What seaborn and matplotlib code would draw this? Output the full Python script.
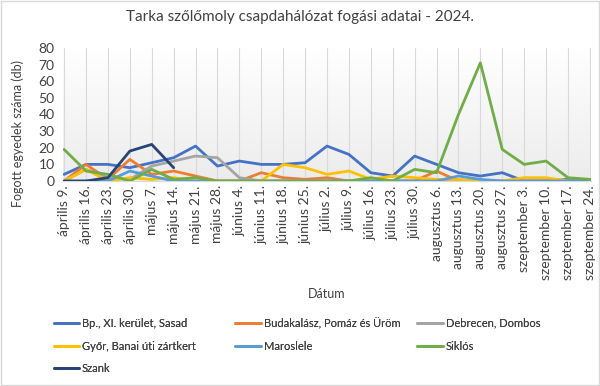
import numpy as np
import pandas as pd
import seaborn as sns
import matplotlib.pyplot as plt
from matplotlib.patches import Rectangle
from matplotlib.colors import LinearSegmentedColormap

# dates (weekly)
datumok = ['április 9.', 'április 16.', 'április 23.', 'április 30.', 'május 7.',
           'május 14.', 'május 21.', 'május 28.', 'június 4.', 'június 11.',
           'június 18.', 'június 25.', 'július 2.', 'július 9.', 'július 16.',
           'július 23.', 'július 30.', 'augusztus 6.', 'augusztus 13.',
           'augusztus 20.', 'augusztus 27.', 'szeptember 3.', 'szeptember 10.',
           'szeptember 17.', 'szeptember 24.']

helyek = ['Bp., XI. kerület, Sasad', 'Budakalász, Pomáz és Üröm', 'Debrecen, Dombos',
          'Győr, Banai úti zártkert', 'Maroslele', 'Siklós', 'Szank']

sasad = [4, 10, 10, 8, 11, 14, 21, 9, 12, 10, 10, 11, 21, 16, 5, 3, 15, 10, 5, 3, 5, 0, 0, 1, 0]
budakalasz = [0, 10, 1, 13, 4, 6, 3, 0, 0, 5, 2, 1, 2, 0, 0, 0, 0, 6, 0, 0, 0, 0, 0, 0, 0]
debrecen = [0, 7, 2, 1, 9, 12, 15, 14, 2, 0, 0, 0, 0, 0, 0, 0, 0, 0, 0, 0, 0, 0, 0, 0, 0]
gyor = [0, 7, 0, 2, 1, 2, 0, 0, 0, 0, 10, 8, 4, 6, 1, 3, 2, 1, 1, 0, 0, 2, 2, 0, 0]
maroslele = [0, 0, 0, 6, 3, 0, 0, 0, 0, 0, 0, 0, 0, 0, 0, 0, 0, 0, 3, 1, 0, 0, 0, 0, 1]
siklos = [19, 6, 4, 0, 7, 1, 2, 0, 0, 0, 0, 0, 0, 0, 2, 0, 7, 5, 40, 71, 19, 10, 12, 2, 1]
szank = [0, 0, 2, 18, 22, 8] + [np.nan] * 19

szinek = ['#4472C4', '#ED7D31', '#A5A5A5', '#FFC000', '#5B9BD5', '#70AD47', '#264478']

ertekek = [sasad, budakalasz, debrecen, gyor, maroslele, siklos, szank]
sorok = []
for hely, vals in zip(helyek, ertekek):
    for i, v in enumerate(vals):
        sorok.append({'x': i, 'db': v, 'hely': hely})
df = pd.DataFrame(sorok).dropna()

sns.set_style('white')
plt.rcParams['font.family'] = ['Lato', 'DejaVu Sans']
szurke = '#404040'

fig = plt.figure(figsize=(6, 3.86), dpi=100)
ax = fig.add_axes([0.105, 0.531, 0.88, 0.345])

# gradient background of the plot area
grad = np.linspace(0, 1, 256).reshape(-1, 1)
ax.imshow(grad, extent=[0, 1, 0, 1], transform=ax.transAxes, aspect='auto',
          cmap=LinearSegmentedColormap.from_list('g', ['#ececec', '#ffffff']),
          origin='lower', zorder=0)

for i in range(len(datumok)):
    ax.axvline(i, color='#d9d9d9', lw=0.8, zorder=1)

sns.lineplot(data=df, x='x', y='db', hue='hely', hue_order=helyek,
             palette=szinek, lw=2, ax=ax, legend=False, sort=False, zorder=3)

ax.set_xlim(-0.05, len(datumok) - 0.95)
ax.set_ylim(0, 80)
ax.set_yticks(range(0, 81, 10))
ax.set_xticks(range(len(datumok)))
ax.set_xticklabels(datumok, rotation=90, fontsize=10, color=szurke)
ax.tick_params(axis='y', labelsize=10, colors=szurke, length=0, pad=6)
ax.tick_params(axis='x', length=0, pad=3)
for s in ['top', 'right', 'left']:
    ax.spines[s].set_visible(False)
ax.spines['bottom'].set_color('#d9d9d9')
ax.set_xlabel('Dátum', fontsize=9, color=szurke, labelpad=6)
ax.set_ylabel('Fogott egyedek száma (db)', fontsize=9, color=szurke)
ax.yaxis.set_label_coords(-0.074, 0.36)

fig.suptitle('Tarka szőlőmoly csapdahálózat fogási adatai - 2024.', y=0.975,
             fontsize=11, color=szurke)

# legend: three columns, filled row by row
handles = [plt.Line2D([], [], color=c, lw=2) for c in szinek]
oszlopok = [[0, 3, 6], [1, 4], [2, 5]]
xpos = [0.082, 0.385, 0.688]
for xs, idx in zip(xpos, oszlopok):
    leg = fig.legend([handles[i] for i in idx], [helyek[i] for i in idx],
                     loc='upper left', bbox_to_anchor=(xs, 0.188), frameon=False,
                     fontsize=8, handlelength=2.3, handletextpad=0.25,
                     labelspacing=1.05, labelcolor=szurke, borderaxespad=0)
    fig.add_artist(leg)

fig.add_artist(Rectangle((0.002, 0.002), 0.996, 0.996, transform=fig.transFigure,
                         fill=False, edgecolor='#d9d9d9', lw=1))

fig.savefig('out.png', dpi=100)
